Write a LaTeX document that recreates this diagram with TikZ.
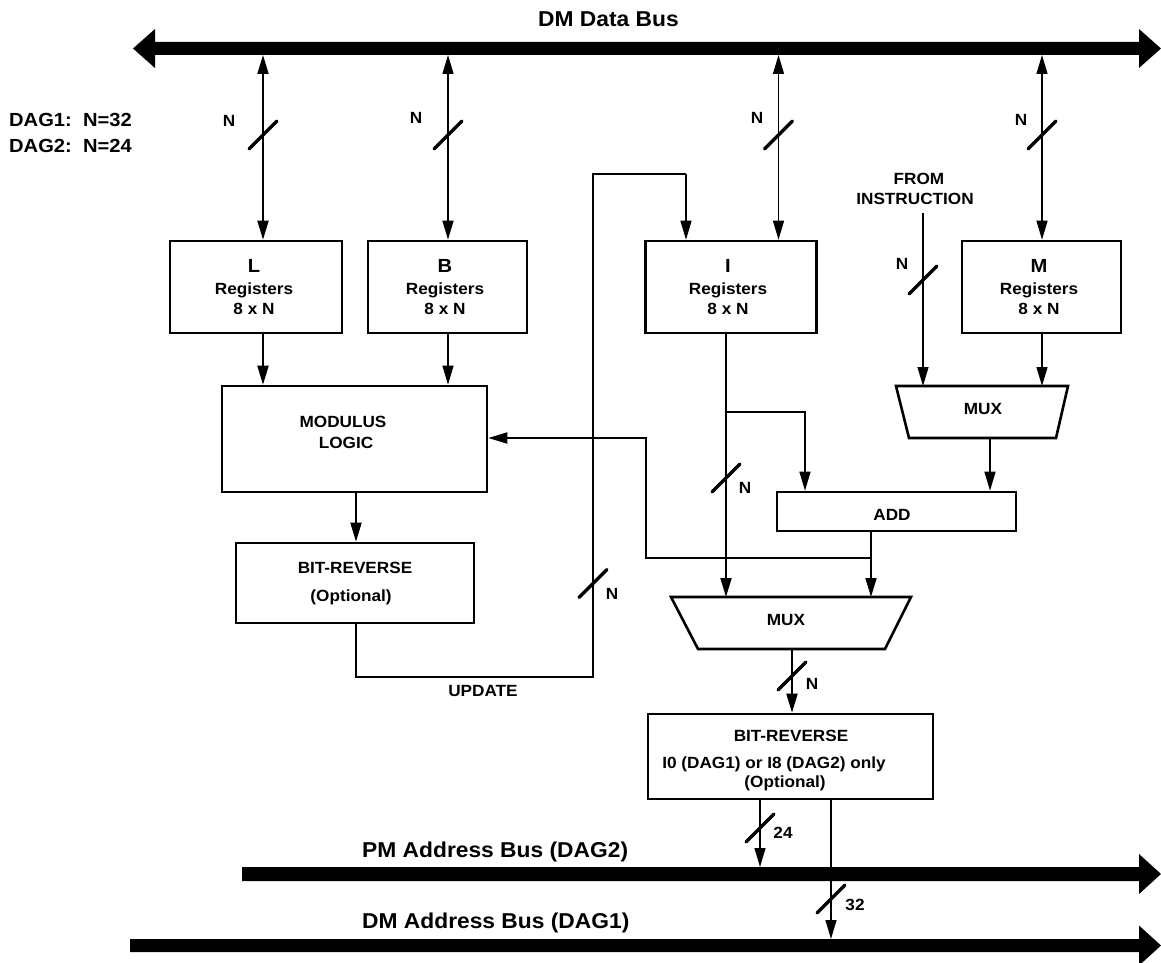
\documentclass[tikz,border=0pt]{standalone}
\usepackage{fontspec}
\setmainfont[FakeStretch=1.06]{Liberation Sans}
\usetikzlibrary{arrows.meta,calc}
\begin{document}
\begin{tikzpicture}[x=1pt,y=-1pt,
  txt/.style={inner sep=0pt,font=\fontsize{16.2}{20}\selectfont\bfseries},
  big/.style={inner sep=0pt,font=\fontsize{19}{20}\selectfont\bfseries},
  buslbl/.style={inner sep=0pt,font=\fontsize{21.5}{24}\selectfont\bfseries},
  box/.style={draw,line width=2.6pt,inner sep=0pt},
  boxline/.style={line width=2.6pt,line join=miter},
  ln/.style={line width=1.9pt},
  thin/.style={line width=1.3pt},
  tip/.tip={Triangle[length=19pt,width=11pt]},
  arr/.style={ln,-tip},
  arrt/.style={thin,-tip},
  arrb/.style={ln,tip-tip},
  arrbt/.style={thin,tip-tip},
  slash/.style={line width=3.4pt,line cap=round}
]
\useasboundingbox (0,0) rectangle (1161,963);

% ---------------- buses
\fill (133,48.5) -- (155,29) -- (155,42) -- (1139,42) -- (1139,29) -- (1161,48.5)
      -- (1139,68) -- (1139,55) -- (155,55) -- (155,68) -- cycle;
\fill (242,867) -- (1139,867) -- (1139,854) -- (1161,874) -- (1139,894) -- (1139,881) -- (242,881) -- cycle;
\fill (130,939) -- (1139,939) -- (1139,925.5) -- (1161,945.5) -- (1139,965.5) -- (1139,952) -- (130,952) -- cycle;
\coordinate (dmdb) at (0,55);
\coordinate (pmtop) at (0,867);
\coordinate (dmatop) at (0,939);

\node[buslbl,anchor=base] (dmdlbl) at (608.5,27) {DM Data Bus};
\node[buslbl,anchor=base west] (pmlbl) at (362,857) {PM Address Bus (DAG2)};
\node[buslbl,anchor=base west] (dmalbl) at (362,928) {DM Address Bus (DAG1)};

\node[big,anchor=base west] (dag1) at (9,126) {DAG1:\ \ N=32};
\node[big,anchor=base west] (dag2) at (9,153) {DAG2:\ \ N=24};

% ---------------- boxes
\node[box,minimum width=172pt,minimum height=92pt] (L) at (256,287) {};
\node[box,minimum width=159pt,minimum height=92pt] (B) at (447.5,287) {};
\node[box,minimum width=171.5pt,minimum height=92pt] (I) at (731,287) {};
\node[box,minimum width=159pt,minimum height=92pt] (M) at (1041.5,287) {};
\node[box,minimum width=265pt,minimum height=106pt] (mod) at (354.5,439) {};
\node[box,minimum width=238pt,minimum height=80pt] (br1) at (355,583) {};
\node[box,minimum width=239pt,minimum height=39pt] (add) at (896.5,511.5) {};
\node[box,minimum width=285pt,minimum height=85pt] (br2) at (790.5,756.5) {};

\node[txt,align=center] (Lt) at (254,287) {{\fontsize{19}{20}\selectfont L}\\[2pt]Registers\\8 x N};
\node[txt,align=center] (Bt) at (445,287) {{\fontsize{19}{20}\selectfont B}\\[2pt]Registers\\8 x N};
\node[txt,align=center] (It) at (728,287) {{\fontsize{19}{20}\selectfont I}\\[2pt]Registers\\8 x N};
\node[txt,align=center] (Mt) at (1039,287) {{\fontsize{19}{20}\selectfont M}\\[2pt]Registers\\8 x N};

\node[txt] (modt1) at (343,422) {MODULUS};
\node[txt] (modt2) at (346,443) {LOGIC};
\node[txt] (br1t1) at (355,567.5) {BIT-REVERSE};
\node[txt,anchor=base] (br1t2) at (351,601) {(Optional)};
\node[txt] (addt) at (892,515) {ADD};
\node[txt,anchor=base] (br2t1) at (791,741) {BIT-REVERSE};
\node[txt,anchor=base] (br2t2) at (774,768) {I0 (DAG1) or I8 (DAG2) only};
\node[txt,anchor=base] (br2t3) at (785,787) {(Optional)};
\node[txt] (updt) at (483,691) {UPDATE};
\node[txt] (fromt) at (919,179) {FROM};
\node[txt] (instt) at (915,199) {INSTRUCTION};

% ---------------- multiplexers
\coordinate (m1a) at (896,386); \coordinate (m1b) at (1068,386);
\coordinate (m1c) at (1056,438); \coordinate (m1d) at (909,438);
\draw[boxline] (m1a) -- (m1b) -- (m1c) -- (m1d) -- cycle;
\node[txt] (mux1) at (983,409) {MUX};
\coordinate (m2a) at (671,597); \coordinate (m2b) at (911,597);
\coordinate (m2c) at (885,649); \coordinate (m2d) at (698,649);
\draw[boxline] (m2a) -- (m2b) -- (m2c) -- (m2d) -- cycle;
\node[txt] (mux2) at (786,620) {MUX};

% ---------------- x positions of connectors
\coordinate (Lx) at (263,0);
\coordinate (Bx) at (448,0);
\coordinate (Ix) at (778.5,0);
\coordinate (Mx) at (1042,0);
\coordinate (fbx) at (686,0);
\coordinate (Idx) at (726,0);
\coordinate (addinx) at (805,0);
\coordinate (fix) at (923,0);
\coordinate (m1ox) at (990,0);
\coordinate (addox) at (871,0);
\coordinate (m2ox) at (792,0);
\coordinate (b24x) at (760,0);
\coordinate (b32x) at (831,0);
\coordinate (modx) at (356,0);

\coordinate (upd2) at (593,677);
\coordinate (upd3) at (593,174);
\coordinate (brI) at (726,412);
\coordinate (fi) at (923,213);
\coordinate (jn) at (871,558);
\coordinate (ret2) at (646,438);

% ---------------- connectors
\draw[arrb] (dmdb -| Lx) -- (L.north -| Lx);
\draw[arrbt] (dmdb -| Bx) -- (B.north -| Bx);
\draw[arrbt] (dmdb -| Ix) -- (I.north -| Ix);
\draw[arrbt] (dmdb -| Mx) -- (M.north -| Mx);

\draw[arr] (L.south -| Lx) -- (mod.north -| Lx);
\draw[arrt] (B.south -| Bx) -- (mod.north -| Bx);
\draw[arr] (mod.south -| modx) -- (br1.north -| modx);
\draw[ln] (br1.south -| modx) |- (upd2) -- (upd3) -- (upd3 -| fbx);
\draw[arrt] (upd3 -| fbx) -- (I.north -| fbx);

\draw[arr] (I.south -| Idx) -- (m2a -| Idx);
\draw[arrt] (brI) -| (add.north -| addinx);
\draw[arrt] (fi) -- (m1a -| fix);
\draw[arrt] (M.south -| Mx) -- (m1a -| Mx);
\draw[arrt] (m1d -| m1ox) -- (add.north -| m1ox);
\draw[arr] (add.south -| addox) -- (m2a -| addox);
\draw[arr] (jn) -| (ret2) -- (mod.east |- ret2);
\draw[arr] (m2d -| m2ox) -- (br2.north -| m2ox);
\draw[arrt] (br2.south -| b24x) -- (pmtop -| b24x);
\draw[arrt] (br2.south -| b32x) -- (dmatop -| b32x);

% ---------------- bus-width slashes and labels
\draw[slash] (249,149) -- (277,121);
\draw[slash] (434,149) -- (462,121);
\draw[slash] (764.5,149) -- (792.5,121);
\draw[slash] (1028,149) -- (1056,121);
\draw[slash] (909,294) -- (937,266);
\draw[slash] (579,597.5) -- (607,569.5);
\draw[slash] (712,492) -- (740,464);
\draw[slash] (778,690) -- (806,662);
\draw[slash] (746,842) -- (774,814);
\draw[slash] (817,913) -- (845,885);

\node[txt] (nL) at (229,121) {N};
\node[txt] (nB) at (416,118) {N};
\node[txt] (nI) at (757,118) {N};
\node[txt] (nM) at (1021,120) {N};
\node[txt] (nF) at (902,264) {N};
\node[txt] (nU) at (612,594) {N};
\node[txt] (nD) at (745,488) {N};
\node[txt] (nO) at (812,684) {N};
\node[txt] (n24) at (783,833) {24};
\node[txt] (n32) at (855,905) {32};
\end{tikzpicture}
\end{document}
